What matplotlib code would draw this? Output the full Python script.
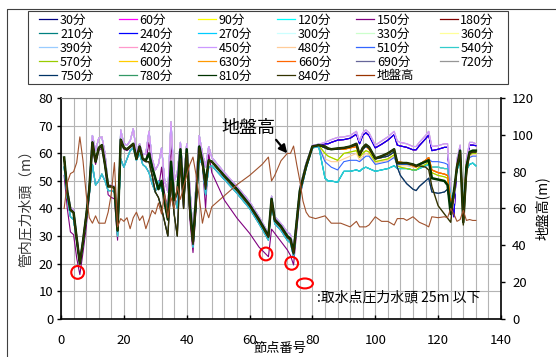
import matplotlib
matplotlib.use('Agg')
import matplotlib.pyplot as plt
from matplotlib.lines import Line2D
from matplotlib.patches import Ellipse, Rectangle

plt.rcParams['font.family'] = ['Noto Sans CJK JP', 'DejaVu Sans']

#%%
# node numbers (left part of the network / right part)
x_left = list(range(1, 49)) + [52, 56, 60, 63, 66, 67, 68, 70, 72, 73, 74, 76, 78, 80, 82]
x_right = [84, 85, 86, 88, 90, 92, 94, 95, 96, 97, 98, 100, 102, 104, 106, 107, 108,
           110, 112, 113, 114, 116, 117, 118, 120, 122, 123, 124, 125, 126, 127, 128,
           129, 130, 131, 132]

# pressure head (m), left part
left_main = [58.5, 46, 39.5, 38.5, 29, 20, 28, 37, 47, 64,
             57, 62, 63, 56, 48, 48, 47.5, 32, 65, 62,
             61.5, 62.5, 63.5, 58, 62.5, 58, 57.5, 60, 55, 51,
             47, 50, 42, 36, 57, 43, 46, 61.5, 44, 61.5,
             41, 28, 44, 62.5, 57, 49, 57.5, 57,
             51.8, 47, 41.3, 36, 30, 43.5, 36, 33.5, 30, 29, 24, 46.5, 55.5, 62.5, 63]
left_top = [58.5, 47, 40.5, 39.5, 30, 21, 29, 38, 48, 66.5,
            61, 65.5, 66, 60, 48.5, 48.5, 48, 33, 68.5, 63.5,
            63, 64.5, 69, 60.5, 63.5, 59.5, 60, 68, 58, 54,
            56, 62, 50, 46, 71.5, 50, 53, 64, 50, 63.5,
            48, 30, 50, 66.5, 60, 55, 62.5, 58.5,
            53, 48, 42.5, 37, 31, 44.5, 37, 34.5, 31.5, 30.5, 25.5, 47.5, 56.5, 63, 63.3]
left_low = [55, 44, 37, 36, 28, 20, 27, 36, 45, 56,
            48.5, 50, 52.5, 50, 46.5, 46.5, 46, 30, 58, 55,
            58, 61, 62, 57.5, 60, 56, 55, 53, 49, 46,
            50, 47, 44, 39, 55, 45, 40, 56, 46, 55,
            44, 26, 42, 58, 56, 45, 55, 55.5,
            50.5, 45.5, 40, 34.5, 28.5, 42, 34.5, 32, 28.5, 27.5, 22.5, 45, 54.5, 62, 62.5]
left_150 = [52, 40, 31.5, 30.5, 22, 16, 24, 33, 44, 62,
            56, 61, 62, 55, 45, 44, 43.5, 28.5, 64, 61.5,
            61, 62, 63, 57.5, 62, 57.5, 57, 64, 56, 50,
            47, 55, 45, 40, 65, 45, 41, 62, 40, 62,
            36, 24, 40, 63, 56, 40, 60, 53,
            43, 36.5, 31, 26, 22.5, 32.5, 31, 28, 25, 23, 19.5, 44, 55, 62, 62.5]
left_dark = [58.5, 46, 39.5, 38.5, 29, 20, 28, 37, 47, 64,
             57, 62, 63, 56, 48, 48, 47.5, 32, 65, 62,
             61.5, 62.5, 63.5, 58, 62.5, 58, 57, 57, 52, 46,
             44, 40, 35, 30, 50, 38, 30, 58, 40, 60,
             38, 27, 42, 62, 56, 47, 57.5, 57,
             51.5, 46.5, 41, 35.5, 29.5, 43, 35.5, 33, 29.5, 28.5, 23.5, 46, 55, 62.5, 63]

# right part
right_main = [62.5, 61.8, 61.5, 61.8, 62, 62.5, 63.5, 59.5, 62, 63.2, 62.3, 58.2, 59, 60,
              61.5, 56.5, 56.5, 56.5, 56, 55.5, 56, 57, 57.5, 51, 50.5, 50, 48.5, 38, 46,
              55, 61, 35, 55, 60.5, 61, 61]
right_top = [64, 64.5, 65, 65.8, 66, 66.5, 68, 64.5, 67.5, 68.5, 67.5, 63, 64.5, 66,
             68, 64.5, 64, 63.5, 62.5, 62.5, 64, 66.5, 68, 62.5, 62.8, 63.5, 63.5, 45, 42,
             58, 63, 40, 58, 64, 64, 63.5]
right_hi = [63.5, 63.5, 64, 64.8, 65, 65.5, 67, 63.5, 66.5, 67.5, 66.5, 62, 63.3, 64.8,
            66.8, 63, 62.7, 62.2, 61.3, 61.3, 62.8, 65.3, 66.7, 61, 61.5, 62.2, 62.2, 44, 37,
            57, 62.5, 38, 57, 63, 63, 62.8]
right_mid = [62, 61.5, 61.5, 61.5, 61.5, 62, 62.5, 59, 61.5, 62.5, 61.5, 58, 58.5, 59,
             60.5, 57, 56.8, 56.5, 55.5, 55, 56, 57.5, 58.5, 54, 53, 52.5, 52, 42, 45,
             56, 60, 40, 56, 60, 60.5, 60.5]
right_570 = [60, 59, 58.5, 57.5, 60, 60.5, 61, 58.5, 60, 61, 60.5, 57, 57.5, 58,
             59.5, 55.5, 55, 54.5, 54, 54, 55, 56, 57, 53, 52, 51.5, 51, 40, 44,
             55, 60, 39, 56, 59.5, 60, 60]
right_480 = [58, 57.5, 57, 57, 58, 59, 60, 57.5, 59, 60, 59.5, 56.5, 57, 57.5,
             59, 56, 55.5, 55.5, 55, 55, 56, 57, 58, 55, 55, 54.5, 54, 41, 44,
             55, 59, 40, 55, 59, 59.5, 59.5]
right_510 = [57, 56, 55, 54, 57, 57.5, 57.5, 57, 58, 59, 59, 56, 56.5, 57,
             58.5, 56, 56, 56, 55.5, 55.5, 56, 57.5, 58, 57, 57, 56.5, 56, 43, 45,
             56, 58.5, 41, 56, 58.5, 59, 59]
right_cyan = [51, 50, 50, 49.5, 53.5, 53.5, 54, 53.5, 54.5, 55, 54.5, 53.5, 54, 54.5,
              55.5, 54.5, 54.5, 54.5, 54, 54, 54.5, 55.5, 56, 55, 55, 54.5, 54.5, 44, 46,
              54, 57, 42, 54, 56, 56.5, 55.5]
right_750 = [62, 61.5, 61.5, 61.5, 62, 62.5, 63, 59.5, 61.5, 62.5, 62, 58, 58.5, 59,
             60.5, 55, 52, 49, 47, 46.5, 48, 50, 51, 46, 45.5, 46, 47, 40, 44,
             55, 60, 37, 55, 60, 60.5, 60.5]
right_olive = [62.5, 61.8, 61.5, 61.8, 62, 62.5, 63.5, 59.5, 62, 63.2, 62.3, 58.2, 59, 60,
               61.5, 56.5, 56.5, 56.5, 56, 55.5, 55.5, 55, 54, 48, 41, 38, 36.5, 35, 45,
               55, 60.5, 34, 52, 60, 60.5, 60.5]

# ground elevation (m, right axis)
ground_x = list(range(1, 49)) + [52, 56, 60, 64, 66, 67, 68, 69, 70, 72, 73, 74,
                                 75, 76, 77, 78, 79, 81, 83, 84, 85, 86, 89, 92, 94, 95, 97, 98, 100,
                                 102, 104, 106, 107, 109, 110, 112, 114, 116, 117, 118, 120, 122,
                                 123, 124, 125, 126, 127, 128, 129, 130, 131, 132]
ground_m = [60, 74, 79, 80, 85, 99, 86, 68, 55, 52,
            56, 52, 52, 52, 58, 68, 85, 50, 54.5, 53,
            55, 49, 55, 58, 53.5, 56, 49, 54, 59, 57,
            63, 57, 68, 55, 66, 60, 72, 65, 72, 78,
            84, 88, 78, 66, 52, 60, 55, 61,
            67, 73, 78, 84, 88, 75, 78, 82, 86, 90, 90, 94,
            84, 75, 64, 58, 55.5, 54.5, 55.5, 56, 54, 52, 52, 50, 53, 50, 50, 51, 55.5,
            53, 53, 51, 54.5, 54.5, 53.5, 55.5, 52.5, 51, 50, 55.5, 55, 55.5,
            55, 60, 57, 53, 54, 59, 53.5, 54, 53.5, 53.5]
assert len(ground_x) == len(ground_m)

minutes = list(range(30, 841, 30))
colors = ['#000080', '#FF00FF', '#FFFF00', '#00FFFF', '#800080', '#800000',
          '#008080', '#0000FF', '#00CCFF', '#CCFFFF', '#CCFFCC', '#FFFF99',
          '#99CCFF', '#FF99CC', '#CC99FF', '#FFCC99', '#3366FF', '#33CCCC',
          '#99CC00', '#FFCC00', '#FF9900', '#FF6600', '#666699', '#969696',
          '#003366', '#339966', '#003300', '#333300']
left_pick = ['top', 'main', 'low', 'low', 'p150', 'main', 'low', 'top', 'low', 'top',
             'top', 'top', 'top', 'top', 'top', 'low', 'low', 'low', 'main', 'main',
             'main', 'main', 'dark', 'main', 'dark', 'main', 'main', 'dark']
right_pick = ['hi', 'hi', '570', 'cyan', 'hi', 'mid', 'cyan', 'hi', 'cyan', 'top',
              'top', 'top', 'top', 'top', 'top', '480', '510', 'cyan', '570', 'mid',
              'mid', 'mid', '750', '750', '750', 'main', 'main', 'olive']

left_sets = {'main': left_main, 'top': left_top, 'low': left_low,
             'p150': left_150, 'dark': left_dark}
right_sets = {'main': right_main, 'top': right_top, 'hi': right_hi, 'mid': right_mid,
              '570': right_570, '480': right_480, '510': right_510,
              'cyan': right_cyan, '750': right_750, 'olive': right_olive}

# marked nodes (pressure head under 25 m)
mark_x = [5.3, 65.2, 73.4]
mark_y = [16.8, 23.5, 20.1]

#%%
fig = plt.figure(figsize=(5.56, 3.57), dpi=100)
ax = fig.add_axes([61/556, 1 - 318.7/357, 440/556, 220.4/357])
ax2 = ax.twinx()

xs = x_left + x_right
handles = []
for m, c, lp, rp in zip(minutes, colors, left_pick, right_pick):
    ys = left_sets[lp] + right_sets[rp]
    lw = 1.8 if m == 810 else (1.0 if m == 840 else 0.8)
    ax.plot(xs, ys, color=c, lw=lw, solid_joinstyle='round')
    handles.append(Line2D([], [], color=c, lw=0.9))

ax2.plot(ground_x, ground_m, color='#A0522D', lw=0.8)
handles.append(Line2D([], [], color='#993300', lw=0.9))
labels = ['%d分' % m for m in minutes] + ['地盤高']

ax.set_xlim(0, 140)
ax.set_ylim(0, 80)
ax2.set_ylim(0, 120)
ax.set_xticks(range(0, 141, 20))
ax.set_xticks(range(0, 141, 4), minor=True)
ax.set_yticks(range(0, 81, 10))
ax2.set_yticks(range(0, 121, 20))
ax.grid(which='both', axis='x', color='#b4b4b4', lw=0.8)
ax.grid(which='major', axis='y', color='#b4b4b4', lw=0.8)
ax.set_axisbelow(True)

ax.tick_params(axis='x', which='major', direction='in', length=3, width=1, pad=11, labelsize=9.5)
ax.tick_params(axis='x', which='minor', length=0)
ax.tick_params(axis='y', direction='out', length=3, width=1, pad=2.5, labelsize=9.5)
ax2.tick_params(axis='y', direction='out', length=3, width=1, pad=5, labelsize=9.5)

for s in ['left', 'bottom']:
    ax.spines[s].set_linewidth(1.2)
ax.spines['right'].set_visible(False)
ax.spines['top'].set_color('#808080')
ax.spines['top'].set_linewidth(0.8)
for s in ['left', 'bottom', 'top']:
    ax2.spines[s].set_visible(False)
ax2.spines['right'].set_linewidth(1.2)

# marks
ax.scatter(mark_x, mark_y, s=85, facecolors='none', edgecolors='red', linewidths=1.5, zorder=5, clip_on=False)
ax.add_patch(Ellipse((77.6, 12.8), 5.1, 3.6, fill=False, ec='red', lw=1.5, zorder=5))
ax.text(81.3, 7.8, ':取水点圧力水頭 25m 以下', fontsize=10, va='center', ha='left')

ax.annotate('地盤高', xy=(72, 60), xytext=(59.5, 69.2), fontsize=13, ha='center', va='center',
            arrowprops=dict(arrowstyle='-|>', color='k', lw=1.6, mutation_scale=12,
                            relpos=(0.95, 0.1), shrinkA=0, shrinkB=0))

fig.text(280/556, 1 - 348.5/357, '節点番号', fontsize=9.5, ha='center', va='center')
fig.text(26/556, 1 - 205/357, '管内圧力水頭（m）', fontsize=10, rotation=90,
         ha='center', va='center', color='#333333')
fig.text(542/556, 1 - 208/357, '地盤高(m)', fontsize=10, rotation=90, ha='center', va='center')

# legend + frames
order = [r * 6 + j for j in range(6) for r in range(5) if r * 6 + j < len(labels)]
fig.legend([handles[i] for i in order], [labels[i] for i in order], loc='upper left',
           bbox_to_anchor=(39.3/556, 1 - 13.5/357), ncol=6, frameon=False, borderpad=0,
           borderaxespad=0, handlelength=1.44, handletextpad=0.22, columnspacing=2.0,
           labelspacing=0.08, fontsize=9)
fig.add_artist(Rectangle((27.7/556, 1 - 84/357), 480/556, 73/357, transform=fig.transFigure,
                         fill=False, ec='#404040', lw=0.8))
fig.add_artist(Line2D([7/556, 7/556, 1.0], [0, 1 - 9/357, 1 - 9/357], transform=fig.transFigure,
                      color='#404040', lw=0.8))

fig.savefig('out.png', dpi=100)
